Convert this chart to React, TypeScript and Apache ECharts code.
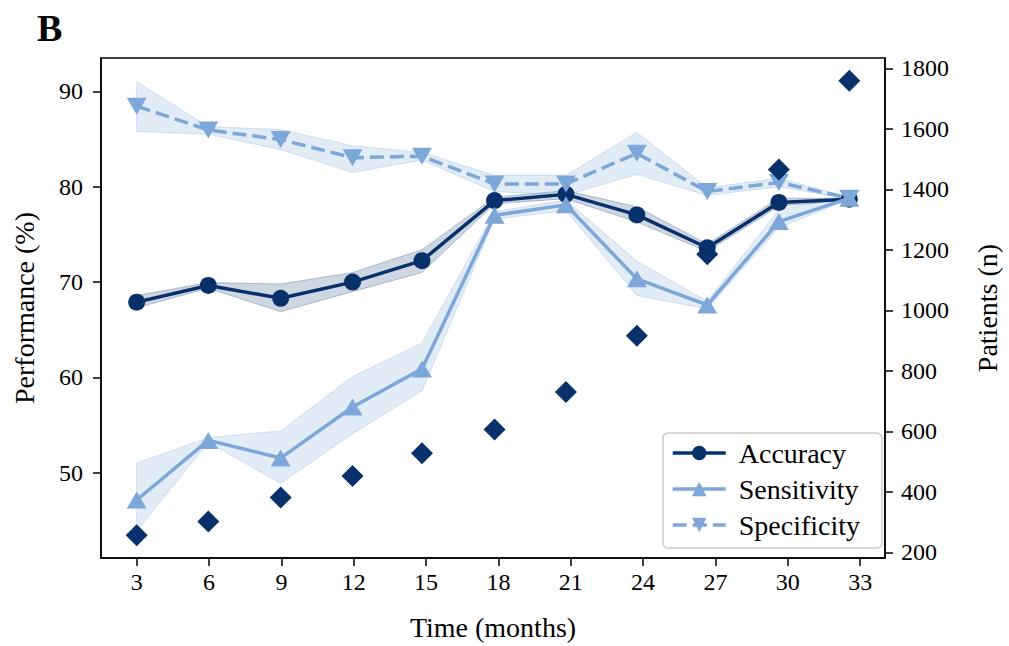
import React, { useEffect, useRef } from "react";
import * as echarts from "echarts";

const MONTHS = [3, 5.97, 8.97, 11.95, 14.83, 17.84, 20.8, 23.74, 26.66, 29.63, 32.55];
const X_TICKS = [3, 6, 9, 12, 15, 18, 21, 24, 27, 30, 33];
const LEFT_TICKS = [50, 60, 70, 80, 90];
const RIGHT_TICKS = [200, 400, 600, 800, 1000, 1200, 1400, 1600, 1800];

const accuracy = [67.9, 69.65, 68.3, 70.0, 72.25, 78.55, 79.2, 77.05, 73.6, 78.35, 78.7];
const accuracyLow = [67.3, 69.35, 66.9, 69.0, 71.0, 78.2, 78.75, 76.3, 73.2, 77.95, 78.6];
const accuracyHigh = [68.6, 69.95, 69.8, 71.0, 73.4, 78.9, 79.6, 77.9, 74.0, 78.8, 78.8];

const sensitivity = [47.15, 53.4, 51.55, 56.9, 60.9, 77.0, 78.1, 70.35, 67.6, 76.35, 78.8];
const sensitivityLow = [43.9, 53.2, 48.9, 54.1, 58.6, 76.6, 77.5, 68.6, 67.2, 75.7, 78.7];
const sensitivityHigh = [51.0, 53.7, 54.4, 60.1, 63.6, 77.4, 78.6, 72.2, 68.0, 77.6, 78.9];

const specificity = [88.45, 85.95, 84.95, 83.05, 83.2, 80.3, 80.3, 83.5, 79.5, 80.45, 78.8];
const specificityLow = [85.8, 85.5, 83.9, 81.5, 82.8, 79.5, 79.1, 81.3, 79.1, 80.0, 78.7];
const specificityHigh = [91.0, 86.3, 86.0, 84.3, 83.6, 81.2, 81.2, 85.7, 79.9, 80.9, 78.9];

const patients = [256, 302, 381, 452, 527, 606, 730, 916, 1185, 1465, 1759];

const DARK = "#08306b";
const LIGHT = "#7da7d9";
const FONT = "'Liberation Serif', 'Times New Roman', serif";

function band(low: number[], high: number[], fill: string, stroke: string) {
  return {
    type: "custom",
    xAxisIndex: 0,
    yAxisIndex: 0,
    silent: true,
    z: 1,
    data: [[MONTHS[0], low[0]]],
    renderItem: (_params: any, api: any) => {
      const pts: number[][] = [];
      for (let i = 0; i < MONTHS.length; i++) pts.push(api.coord([MONTHS[i], high[i]]));
      for (let i = MONTHS.length - 1; i >= 0; i--) pts.push(api.coord([MONTHS[i], low[i]]));
      return {
        type: "polygon",
        shape: { points: pts },
        style: { fill, stroke, lineWidth: 1 },
      };
    },
  };
}

export default function App() {
  const ref = useRef<HTMLDivElement>(null);
  useEffect(() => {
    if (!ref.current) return;
    const chart = echarts.init(ref.current, undefined, { renderer: "svg" });
    const pair = (ys: number[]) => MONTHS.map((m, i) => [m, ys[i]]);
    const tickLabel = { color: "#000", fontFamily: FONT, fontSize: 24 };
    chart.setOption({
      animation: false,
      backgroundColor: "#fff",
      textStyle: { fontFamily: FONT },
      graphic: [
        {
          type: "text",
          left: 37,
          top: 9,
          style: { text: "B", fontFamily: FONT, fontSize: 38, fontWeight: "bold", fill: "#000" },
        },
      ],
      grid: {
        left: 101,
        top: 58,
        right: 119,
        bottom: 86,
        show: true,
        borderColor: "#000",
        borderWidth: 1.5,
        backgroundColor: "transparent",
      },
      legend: {
        orient: "vertical",
        left: 663,
        top: 433,
        data: ["Accuracy", "Sensitivity", "Specificity"],
        itemWidth: 53,
        itemHeight: 18,
        itemGap: 8,
        padding: [6, 22, 9, 8],
        lineStyle: { width: 3.5 },
        backgroundColor: "rgba(255,255,255,0.85)",
        borderColor: "#cccccc",
        borderWidth: 1.5,
        borderRadius: 5,
        textStyle: { fontFamily: FONT, fontSize: 28, color: "#000", padding: [0, 0, 0, 8] },
      },
      xAxis: {
        type: "value",
        min: 1.52,
        max: 34.03,
        name: "Time (months)",
        nameLocation: "middle",
        nameGap: 55,
        nameTextStyle: { fontFamily: FONT, fontSize: 28, color: "#000" },
        axisLine: { show: true, lineStyle: { color: "#000", width: 1.5 } },
        axisTick: { show: true, length: 8, lineStyle: { color: "#000", width: 1.5 }, customValues: X_TICKS },
        axisLabel: { ...tickLabel, margin: 12, customValues: X_TICKS },
        splitLine: { show: false },
      },
      yAxis: [
        {
          type: "value",
          min: 41.07,
          max: 93.5,
          name: "Performance (%)",
          nameLocation: "middle",
          nameRotate: 90,
          nameGap: 63,
          nameTextStyle: { fontFamily: FONT, fontSize: 28, color: "#000" },
          axisLine: { show: true, lineStyle: { color: "#000", width: 1.5 } },
          axisTick: { show: true, length: 8, lineStyle: { color: "#000", width: 1.5 }, customValues: LEFT_TICKS },
          axisLabel: { ...tickLabel, margin: 18, customValues: LEFT_TICKS },
          splitLine: { show: false },
        },
        {
          type: "value",
          position: "right",
          min: 181,
          max: 1834,
          name: "Patients (n)",
          nameLocation: "middle",
          nameRotate: 90,
          nameGap: 88,
          nameTextStyle: { fontFamily: FONT, fontSize: 28, color: "#000" },
          axisLine: { show: true, lineStyle: { color: "#000", width: 1.5 } },
          axisTick: { show: true, length: 8, lineStyle: { color: "#000", width: 1.5 }, customValues: RIGHT_TICKS },
          axisLabel: { ...tickLabel, margin: 16, customValues: RIGHT_TICKS, formatter: (v: number) => String(v) },
          splitLine: { show: false },
        },
      ],
      series: [
        band(accuracyLow, accuracyHigh, "rgba(8,48,107,0.2)", "rgba(8,48,107,0.25)"),
        band(sensitivityLow, sensitivityHigh, "rgba(125,167,217,0.22)", "rgba(125,167,217,0.3)"),
        band(specificityLow, specificityHigh, "rgba(125,167,217,0.22)", "rgba(125,167,217,0.3)"),
        {
          name: "Accuracy",
          type: "line",
          yAxisIndex: 0,
          data: pair(accuracy),
          z: 3,
          symbol: "circle",
          symbolSize: 17,
          lineStyle: { color: DARK, width: 3.5 },
          itemStyle: { color: DARK },
        },
        {
          name: "Sensitivity",
          type: "line",
          yAxisIndex: 0,
          data: pair(sensitivity),
          z: 4,
          symbol: "triangle",
          symbolSize: [20, 17],
          lineStyle: { color: LIGHT, width: 3.5 },
          itemStyle: { color: LIGHT },
        },
        {
          name: "Specificity",
          type: "line",
          yAxisIndex: 0,
          data: pair(specificity),
          z: 4,
          symbol: "triangle",
          symbolRotate: 180,
          symbolSize: [20, 17],
          lineStyle: { color: LIGHT, width: 3.5, type: [14, 6] },
          itemStyle: { color: LIGHT },
        },
        {
          name: "Patients",
          type: "scatter",
          yAxisIndex: 1,
          data: pair(patients),
          z: 5,
          symbol: "diamond",
          symbolSize: [22, 22],
          itemStyle: { color: DARK, opacity: 1 },
        },
      ],
    });
    return () => chart.dispose();
  }, []);
  return <div ref={ref} style={{ width: 1009, height: 646, position: "absolute", left: 0, top: 0 }} />;
}
